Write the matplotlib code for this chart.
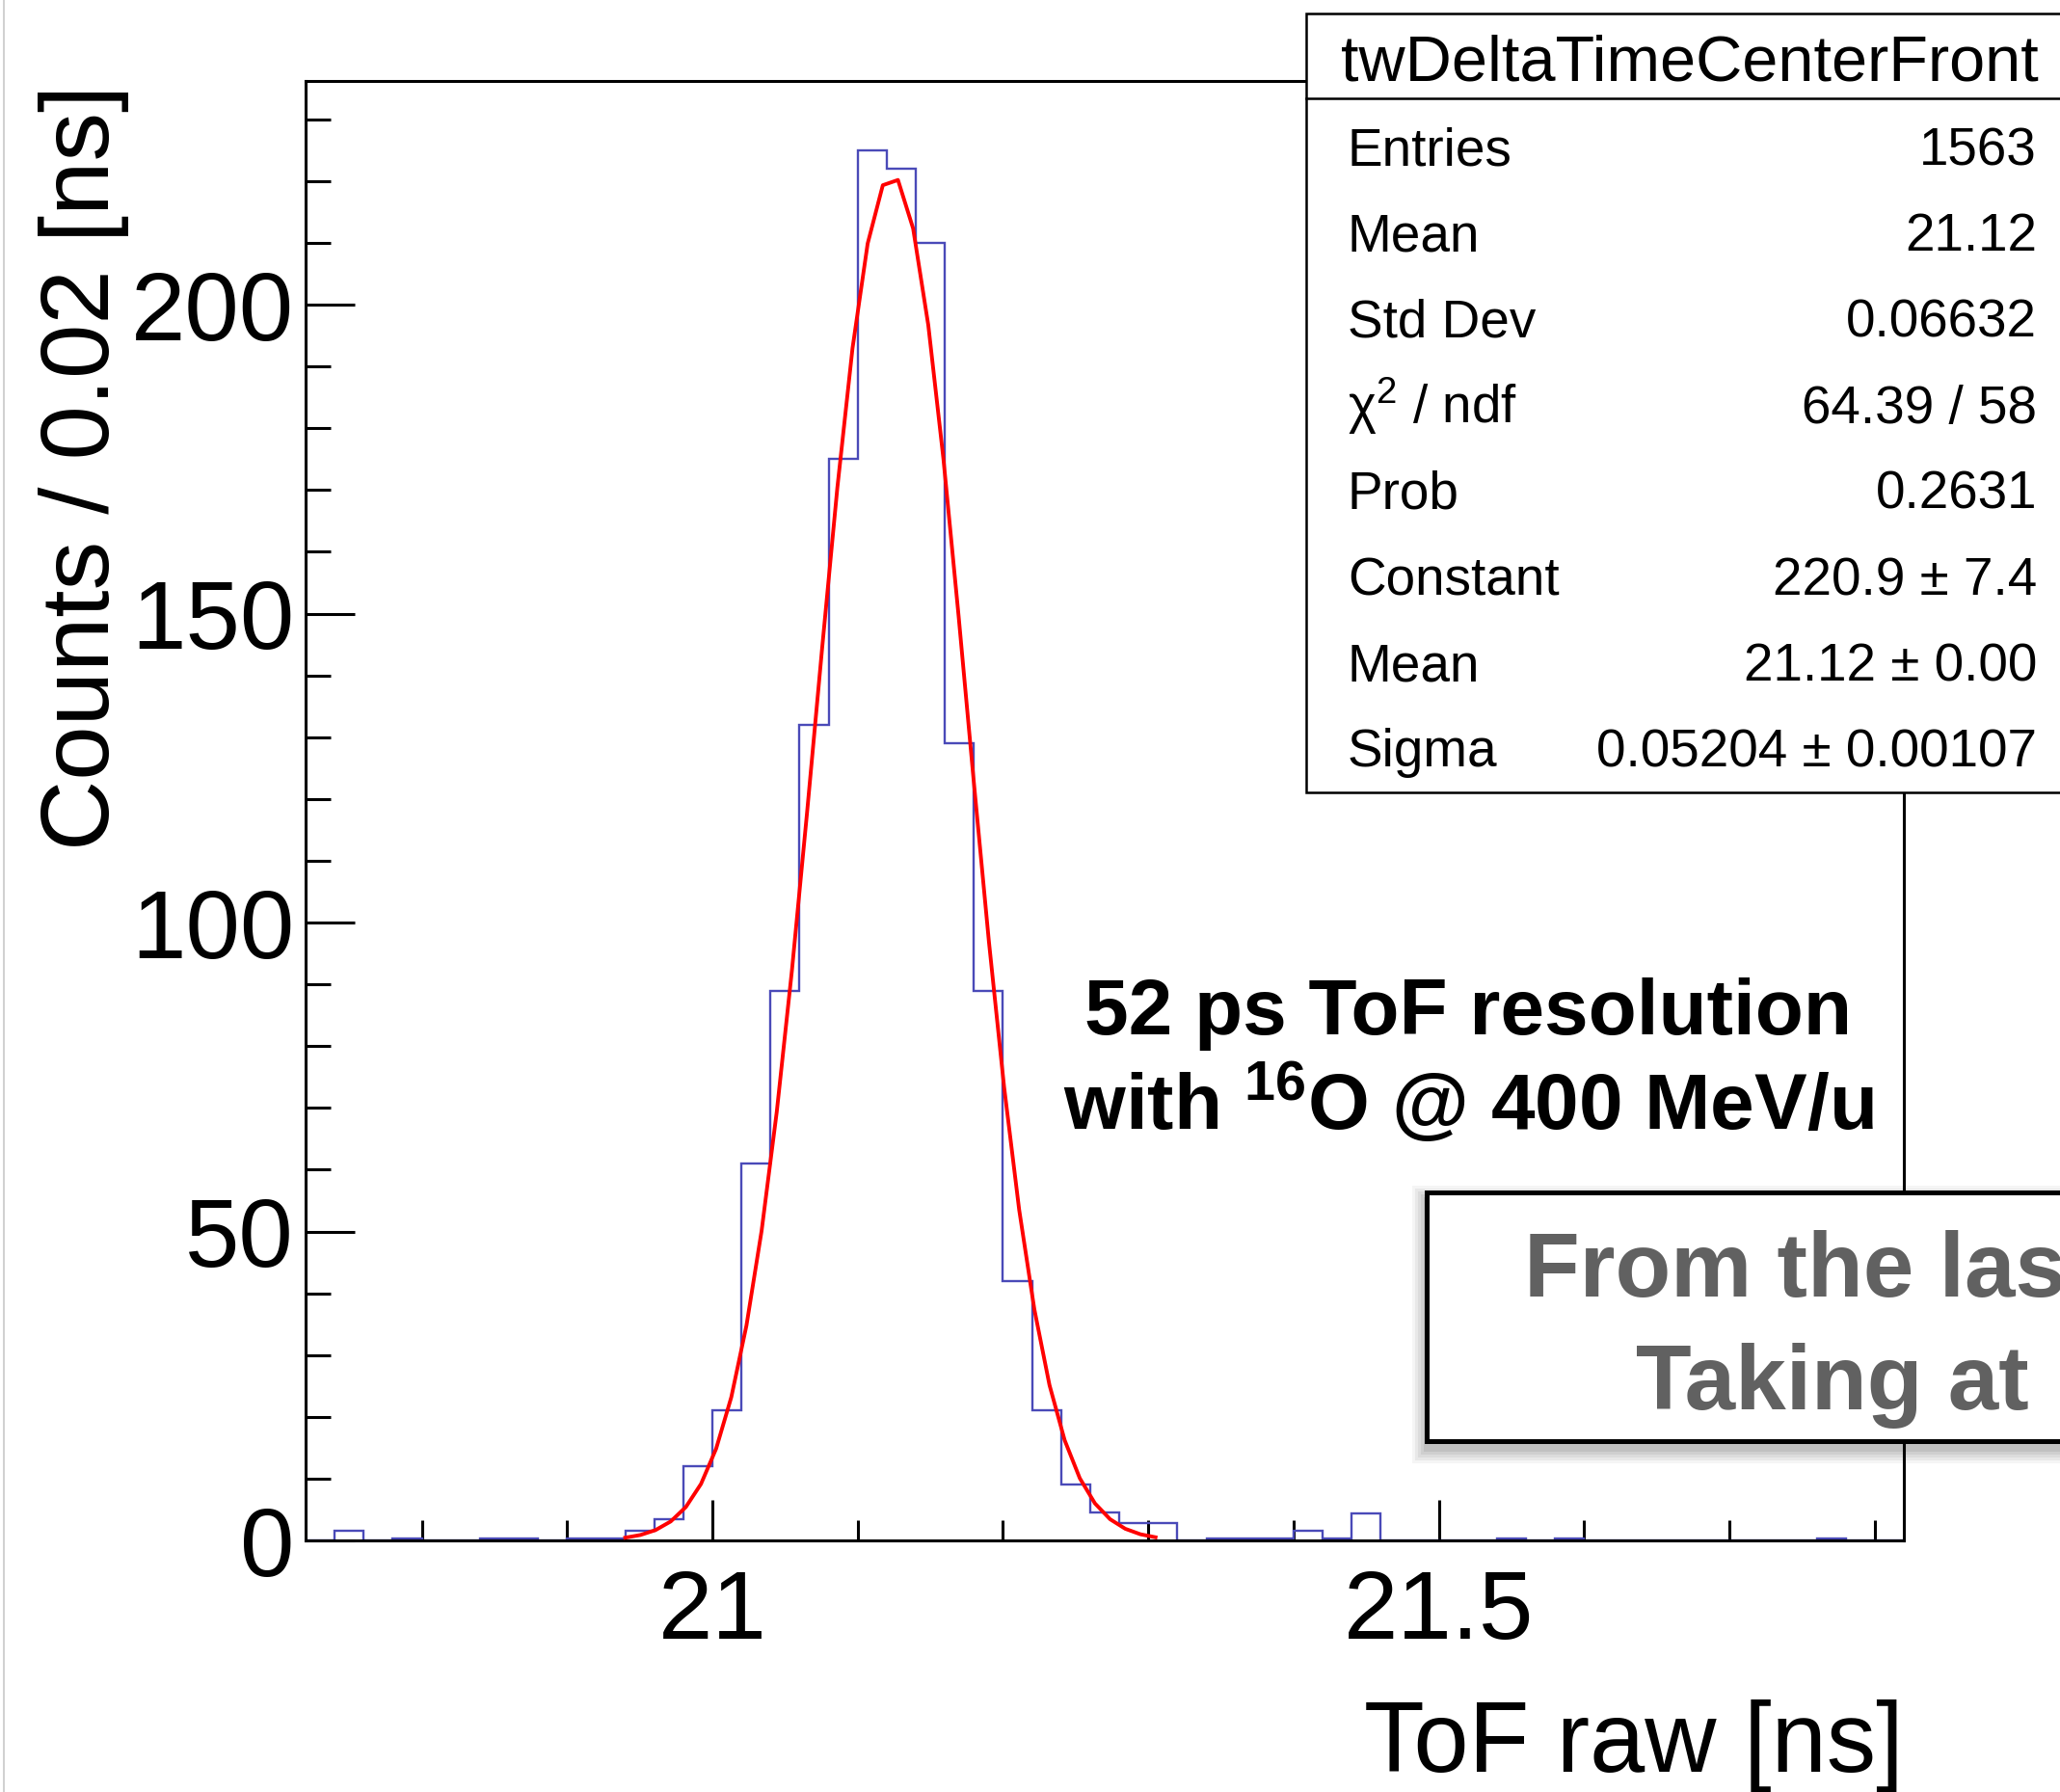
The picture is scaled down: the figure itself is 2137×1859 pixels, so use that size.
import numpy as np
import matplotlib
matplotlib.use("Agg")
import matplotlib.pyplot as plt
from matplotlib.patches import Rectangle
from matplotlib.lines import Line2D
from matplotlib.ticker import MultipleLocator, FixedLocator, FixedFormatter

# ---------------- data ----------------
bin_low = 20.72
bin_width = 0.02
counts = [0, 1.6, 0, 0.3, 0, 0, 0.3, 0.3, 0, 0.3,
          0.3, 1.6, 3.4, 12, 21, 61, 89, 132, 175, 225,
          222, 210, 129, 89, 42, 21, 9, 4.5, 2.8, 2.8,
          0, 0.3, 0.3, 0.3, 1.5, 0.3, 4.4, 0, 0, 0,
          0, 0.3, 0, 0.3, 0, 0, 0, 0, 0, 0,
          0, 0, 0.3, 0, 0]

fit_constant = 220.9
fit_mean = 21.1235
fit_sigma = 0.05204
fit_range = (20.94, 21.305)
fit_npoints = 36

x_ticks = [21.0, 21.5]
x_ticklabels = ["21", "21.5"]
y_ticks = [0, 50, 100, 150, 200]
y_ticklabels = ["0", "50", "100", "150", "200"]

stats_title = "twDeltaTimeCenterFront"
stats_labels = ["Entries", "Mean", "Std Dev", "\u03c7$^2$ / ndf", "Prob",
                "Constant", "Mean", "Sigma"]
stats_values = ["1563", "21.12", "0.06632", "64.39 / 58", "0.2631",
                "220.9 \u00b1 7.4", "21.12 \u00b1 0.00", "0.05204 \u00b1 0.00107"]

note_lines = ["52 ps ToF resolution", r"with $^{\mathbf{16}}$O @ 400 MeV/u"]
box_lines = ["From the las", "Taking at"]

# ---------------- style ----------------
plt.rcParams['font.family'] = ['Liberation Sans', 'DejaVu Sans']
plt.rcParams['mathtext.fontset'] = 'custom'
plt.rcParams['mathtext.rm'] = 'Liberation Sans'
plt.rcParams['mathtext.bf'] = 'Liberation Sans:bold'
plt.rcParams['mathtext.it'] = 'Liberation Sans:italic'

W, H = 2137, 1859
fig = plt.figure(figsize=(W / 100, H / 100), dpi=100)
fig.patch.set_facecolor('white')

def fx(px):
    return px / W

def fy(py):
    return 1 - py / H

ax = fig.add_axes([fx(317), fy(1598), fx(1975) - fx(317), fy(84) - fy(1598)])

edges = bin_low + bin_width * np.arange(len(counts) + 1)
ax.stairs(counts, edges, color='#4a4ab8', lw=1.7, baseline=0, zorder=2)

xf = np.linspace(fit_range[0], fit_range[1], fit_npoints)
yf = fit_constant * np.exp(-0.5 * ((xf - fit_mean) / fit_sigma) ** 2)
ax.plot(xf, yf, color='#ff0000', lw=2.8, zorder=3)

ax.set_xlim(edges[0], edges[-1])
ax.set_ylim(0, 236.2)

ax.xaxis.set_major_locator(FixedLocator(x_ticks))
ax.xaxis.set_major_formatter(FixedFormatter(x_ticklabels))
ax.xaxis.set_minor_locator(MultipleLocator(0.1))
ax.yaxis.set_major_locator(FixedLocator(y_ticks))
ax.yaxis.set_major_formatter(FixedFormatter(y_ticklabels))
ax.yaxis.set_minor_locator(MultipleLocator(10))

ax.tick_params(axis='both', which='both', direction='in', width=2.2, color='black',
               top=False, right=False)
ax.tick_params(axis='x', which='major', length=30, pad=21, labelsize=73)
ax.tick_params(axis='x', which='minor', length=15)
ax.tick_params(axis='y', which='major', length=37, pad=8.6, labelsize=73)
ax.tick_params(axis='y', which='minor', length=18.7)
for sp in ax.spines.values():
    sp.set_linewidth(2.2)

# axis titles
fig.text(fx(87), fy(88), "Counts / 0.02 [ns]", rotation=90, ha='center', va='top',
         fontsize=73)
fig.text(fx(1975), fy(1838), "ToF raw [ns]", ha='right', va='baseline', fontsize=74)

# left border line of the screenshot
fig.add_artist(Line2D([fx(3.5), fx(3.5)], [0, 1], color='#c8c8c8', lw=1.2,
                      transform=fig.transFigure, zorder=1))

# stats box
fig.add_artist(Rectangle((fx(1355), fy(822)), fx(2170) - fx(1355), fy(14) - fy(822),
                         transform=fig.transFigure, fc='white', ec='black', lw=1.8,
                         zorder=5))
fig.add_artist(Line2D([fx(1355), fx(2170)], [fy(102), fy(102)], color='black', lw=1.8,
                      transform=fig.transFigure, zorder=6))
fig.text(fx(1753), fy(84), stats_title, ha='center', va='baseline', fontsize=48,
         zorder=7)
for i, (lab, val) in enumerate(zip(stats_labels, stats_values)):
    yb = fy(171 + 89.2 * i)
    fig.text(fx(1398), yb, lab, ha='left', va='baseline', fontsize=39.5, zorder=7)
    fig.text(fx(2113), yb, val, ha='right', va='baseline', fontsize=39.5, zorder=7)

# annotation
fig.text(fx(1523), fy(1073), note_lines[0], ha='center', va='baseline', fontsize=59,
         fontweight='bold', zorder=7)
fig.text(fx(1523), fy(1172), note_lines[1], ha='center', va='baseline', fontsize=59,
         fontweight='bold', zorder=7)

# gray text box with soft shadow
for k, a in enumerate([0.04, 0.05, 0.05, 0.06, 0.07]):
    grow = (5 - k) * 3.0
    fig.add_artist(Rectangle((fx(1480 - grow), fy(1495 + grow + 8)),
                             fx(2200) - fx(1480 - grow),
                             fy(1237 - grow + 8) - fy(1495 + grow + 8),
                             transform=fig.transFigure, fc='black', ec='none',
                             alpha=a, zorder=5))
fig.add_artist(Rectangle((fx(1480), fy(1495)), fx(2200) - fx(1480), fy(1237) - fy(1495),
                         transform=fig.transFigure, fc='white', ec='black', lw=3.6,
                         zorder=6))
fig.text(fx(1581), fy(1345), box_lines[0], ha='left', va='baseline', fontsize=68,
         fontweight='bold', color='#616161', zorder=7)
fig.text(fx(1697), fy(1462), box_lines[1], ha='left', va='baseline', fontsize=68,
         fontweight='bold', color='#616161', zorder=7)

fig.savefig("out.png", dpi=100, facecolor='white')
